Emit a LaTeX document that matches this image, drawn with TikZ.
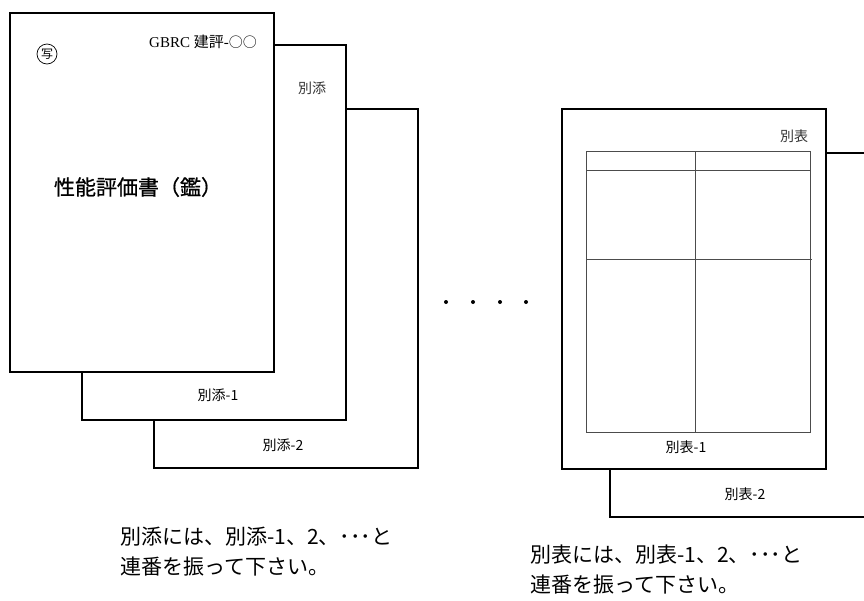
\documentclass[tikz,border=0pt]{standalone}
\usepackage{fontspec}
\setmainfont{Liberation Serif}
\newfontfamily\jp{Noto Sans CJK JP}
\newfontfamily\jpmed{Noto Sans CJK JP}[FakeBold=0.8]
\begin{document}
\begin{tikzpicture}[x=1pt,y=-1pt,
  page/.style={draw=black,line width=1.6pt,fill=white},
  grid/.style={draw=black!70,line width=0.8pt},
  lbl/.style={font=\jp\fontsize{14}{16}\selectfont,inner sep=0pt},
  note/.style={font=\jp\fontsize{21}{24}\selectfont,inner sep=0pt,anchor=west}]
\useasboundingbox (0,0) rectangle (864,600);
% left stack
\draw[page] (154,109) rectangle (418,468);
\node[lbl] (b2) at (283,445) {別添-2};
\draw[page] (82,45) rectangle (346,420);
\node[lbl] (b1) at (218,395) {別添-1};
\node[lbl,text=black!80] (bt) at (312,88) {別添};
\draw[page] (10,13) rectangle (274,372);
\node[font=\jp\fontsize{12}{13}\selectfont,draw,circle,inner sep=1pt,minimum size=20pt,line width=0.7pt] (sha) at (47,54) {写};
\node[inner sep=0pt,anchor=east,font=\fontsize{15}{17}\selectfont] (gbrc) at (257,42) {GBRC {\jp 建評}-{\jp\fontsize{14}{16}\selectfont ○○}};
\node[inner sep=0pt,font=\jpmed\fontsize{21}{24}\selectfont] (title) at (138,187) {性能評価書（鑑）};
% dots
\foreach \x/\n in {446/d1,473/d2,500/d3,526/d4}
  \node[circle,fill=black,inner sep=0pt,minimum size=4pt] (\n) at (\x,302) {};
% right stack
\draw[page] (610,153) rectangle (880,517);
\node[lbl] (t2) at (745,494) {別表-2};
\draw[page] (562,109) rectangle (826,469);
\node[lbl] (t1) at (686,447) {別表-1};
\node[lbl,text=black!80] (tt) at (794,136) {別表};
\draw[grid] (586,151) rectangle (810,432);
\draw[grid] (586,170) -- (810,170);
\draw[grid] (586,259) -- (812,259);
\draw[grid] (695,151) -- (695,432);
% notes
\node[note] (n1a) at (120,537) {別添には、別添-1、2、･･･と};
\node[note] (n1b) at (120,567) {連番を振って下さい。};
\node[note] (n2a) at (530,555) {別表には、別表-1、2、･･･と};
\node[note] (n2b) at (530,585) {連番を振って下さい。};
\end{tikzpicture}
\end{document}
